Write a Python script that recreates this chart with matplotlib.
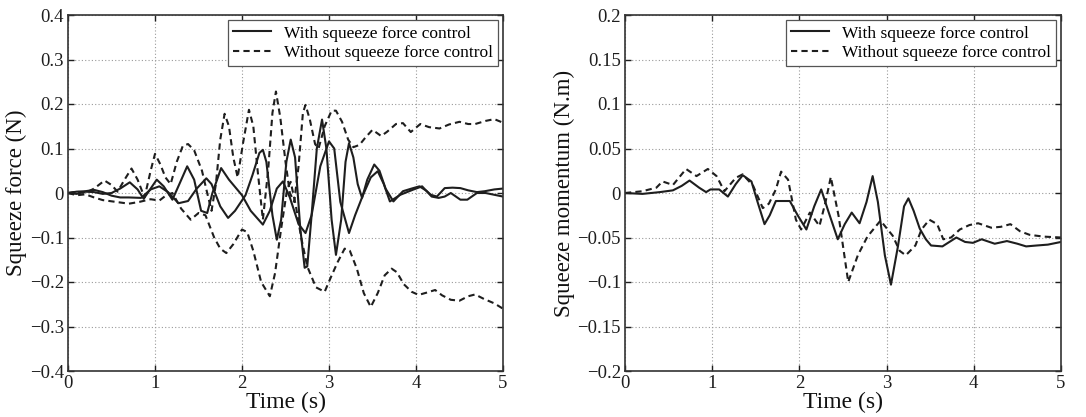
import matplotlib
matplotlib.use("Agg")
import matplotlib.pyplot as plt

plt.rcParams['font.family'] = ['Liberation Serif', 'DejaVu Serif']

# ---------------- data: left panel (squeeze force) ----------------
t_up_dash = [0.00, 0.10, 0.20, 0.30, 0.42, 0.50, 0.57, 0.65, 0.73, 0.80, 0.88, 0.95, 1.00, 1.06, 1.12,
             1.18, 1.25, 1.32, 1.38, 1.45, 1.54, 1.60, 1.65, 1.70, 1.75, 1.80, 1.85, 1.90, 1.95, 2.01,
             2.08, 2.13, 2.18, 2.24, 2.30, 2.35, 2.39, 2.44, 2.50, 2.55, 2.60, 2.65, 2.70, 2.73, 2.78,
             2.84, 2.88, 2.95, 3.03, 3.08, 3.15, 3.22, 3.28, 3.35, 3.42, 3.50, 3.60, 3.67, 3.77, 3.85,
             3.94, 4.05, 4.15, 4.27, 4.38, 4.50, 4.60, 4.68, 4.80, 4.90, 5.00]
f_up_dash = [0.000, 0.003, 0.000, 0.010, 0.028, 0.018, 0.003, 0.030, 0.055, 0.030, -0.010, 0.050, 0.088, 0.065, 0.035,
             0.020, 0.070, 0.106, 0.110, 0.096, 0.050, 0.000, -0.040, 0.020, 0.120, 0.178, 0.150, 0.080, 0.035, 0.110,
             0.187, 0.150, 0.050, -0.060, 0.050, 0.180, 0.228, 0.170, 0.070, 0.000, -0.020, 0.060, 0.180, 0.198, 0.165,
             0.110, 0.100, 0.150, 0.185, 0.185, 0.160, 0.120, 0.103, 0.108, 0.125, 0.142, 0.128, 0.138, 0.155, 0.157,
             0.137, 0.155, 0.148, 0.145, 0.154, 0.160, 0.155, 0.155, 0.162, 0.166, 0.158]

t_low_dash = [0.00, 0.10, 0.20, 0.30, 0.40, 0.55, 0.70, 0.82, 0.95, 1.05, 1.13, 1.20, 1.30, 1.41, 1.50,
              1.58, 1.68, 1.75, 1.82, 1.90, 2.00, 2.06, 2.13, 2.22, 2.32, 2.38, 2.45, 2.52, 2.56, 2.62,
              2.68, 2.75, 2.85, 2.95, 3.02, 3.10, 3.18, 3.24, 3.32, 3.40, 3.48, 3.56, 3.64, 3.72, 3.78,
              3.86, 3.95, 4.03, 4.12, 4.22, 4.30, 4.40, 4.50, 4.60, 4.68, 4.78, 4.90, 5.00]
f_low_dash = [0.000, -0.005, -0.003, -0.010, -0.016, -0.020, -0.024, -0.020, -0.014, -0.017, -0.005, 0.000, -0.035, -0.060, -0.045,
              -0.050, -0.100, -0.125, -0.135, -0.115, -0.082, -0.088, -0.130, -0.200, -0.232, -0.180, -0.080, 0.010, 0.025, -0.030,
              -0.100, -0.165, -0.212, -0.222, -0.190, -0.155, -0.125, -0.130, -0.170, -0.225, -0.256, -0.225, -0.185, -0.170, -0.178,
              -0.205, -0.222, -0.229, -0.224, -0.218, -0.230, -0.240, -0.242, -0.232, -0.228, -0.238, -0.248, -0.260]

t_solid_a = [0.00, 0.10, 0.20, 0.30, 0.40, 0.50, 0.60, 0.70, 0.84, 0.95, 1.05, 1.15, 1.27, 1.38, 1.48,
             1.59, 1.65, 1.75, 1.84, 1.92, 2.04, 2.12, 2.20, 2.24, 2.28, 2.35, 2.40, 2.45, 2.51, 2.56,
             2.61, 2.67, 2.72, 2.75, 2.80, 2.86, 2.92, 2.97, 3.03, 3.08, 3.14, 3.19, 3.23, 3.28, 3.33,
             3.38, 3.44, 3.52, 3.58, 3.65, 3.74, 3.85, 3.95, 4.04, 4.12, 4.17, 4.24, 4.33, 4.42, 4.51,
             4.60, 4.70, 4.79, 4.90, 5.00]
f_solid_a = [0.000, 0.003, 0.004, 0.007, 0.002, -0.006, -0.010, -0.010, -0.011, 0.008, 0.015, 0.002, -0.023, -0.018, 0.010,
             0.033, 0.020, -0.030, -0.056, -0.040, -0.005, 0.040, 0.090, 0.097, 0.070, -0.050, -0.105, -0.060, 0.070, 0.120,
             0.080, -0.080, -0.168, -0.165, -0.050, 0.100, 0.165, 0.100, -0.060, -0.139, -0.060, 0.070, 0.112, 0.080, 0.020,
             -0.011, 0.030, 0.064, 0.050, 0.010, -0.019, 0.004, 0.010, 0.015, 0.005, -0.004, -0.008, 0.011, 0.012, 0.011,
             0.006, 0.002, 0.004, 0.008, 0.010]

t_solid_b = [0.00, 0.10, 0.20, 0.30, 0.40, 0.50, 0.60, 0.71, 0.80, 0.87, 0.95, 1.02, 1.10, 1.20, 1.28,
             1.37, 1.45, 1.53, 1.60, 1.66, 1.76, 1.85, 2.00, 2.10, 2.24, 2.32, 2.40, 2.47, 2.55, 2.65,
             2.73, 2.80, 2.90, 3.00, 3.06, 3.13, 3.23, 3.30, 3.39, 3.48, 3.56, 3.63, 3.70, 3.82, 3.96,
             4.07, 4.18, 4.26, 4.33, 4.40, 4.51, 4.59, 4.70, 4.80, 4.90, 5.00]
f_solid_b = [0.000, -0.002, 0.003, 0.002, -0.002, 0.000, 0.010, 0.024, 0.008, -0.013, 0.010, 0.030, 0.015, -0.015, 0.020,
             0.060, 0.030, -0.040, -0.045, 0.000, 0.056, 0.030, -0.005, -0.040, -0.071, -0.040, 0.010, 0.026, -0.010, -0.070,
             -0.090, -0.050, 0.060, 0.116, 0.100, -0.020, -0.090, -0.050, -0.005, 0.035, 0.049, 0.020, -0.019, -0.004, 0.007,
             0.015, -0.008, -0.011, -0.008, 0.000, -0.015, -0.015, 0.000, 0.000, -0.004, -0.008]

# ---------------- data: right panel (squeeze momentum) ----------------
t_mom_solid = [0.00, 0.20, 0.40, 0.55, 0.65, 0.74, 0.85, 0.93, 0.98, 1.08, 1.18, 1.27, 1.35, 1.45, 1.52,
               1.60, 1.66, 1.73, 1.89, 1.98, 2.08, 2.17, 2.25, 2.33, 2.44, 2.52, 2.60, 2.69, 2.77, 2.84,
               2.90, 2.98, 3.05, 3.13, 3.20, 3.25, 3.31, 3.38, 3.45, 3.51, 3.64, 3.72, 3.80, 3.90, 3.99,
               4.09, 4.24, 4.38, 4.50, 4.60, 4.72, 4.85, 5.00]
m_mom_solid = [0.000, -0.001, 0.001, 0.003, 0.008, 0.014, 0.006, 0.001, 0.004, 0.004, -0.004, 0.010, 0.020, 0.013, -0.010,
               -0.035, -0.025, -0.009, -0.009, -0.025, -0.041, -0.015, 0.004, -0.020, -0.052, -0.035, -0.022, -0.034, -0.010, 0.019,
               -0.010, -0.070, -0.103, -0.060, -0.015, -0.006, -0.020, -0.040, -0.052, -0.059, -0.060, -0.055, -0.050, -0.055, -0.056,
               -0.052, -0.057, -0.054, -0.057, -0.060, -0.059, -0.058, -0.055]

t_mom_dash = [0.00, 0.20, 0.36, 0.43, 0.55, 0.70, 0.82, 0.95, 1.05, 1.14, 1.27, 1.35, 1.47, 1.58, 1.65,
              1.73, 1.79, 1.87, 1.96, 2.02, 2.12, 2.23, 2.30, 2.36, 2.45, 2.56, 2.67, 2.78, 2.93, 3.07,
              3.15, 3.22, 3.33, 3.40, 3.49, 3.58, 3.65, 3.74, 3.84, 3.95, 4.05, 4.20, 4.31, 4.42, 4.53,
              4.64, 4.80, 5.00]
m_mom_dash = [0.000, 0.002, 0.006, 0.013, 0.009, 0.027, 0.019, 0.027, 0.019, 0.002, 0.017, 0.021, 0.008, -0.017, -0.012,
              0.004, 0.024, 0.015, -0.030, -0.041, -0.022, -0.037, -0.010, 0.018, -0.026, -0.100, -0.070, -0.049, -0.031, -0.048,
              -0.065, -0.070, -0.059, -0.041, -0.030, -0.035, -0.052, -0.050, -0.041, -0.036, -0.034, -0.039, -0.038, -0.035, -0.043,
              -0.047, -0.049, -0.050]

# ---------------- ticks / labels ----------------
x_ticks = [0, 1, 2, 3, 4, 5]
force_ticks = [-0.4, -0.3, -0.2, -0.1, 0, 0.1, 0.2, 0.3, 0.4]
force_tick_labels = ['\u22120.4', '\u22120.3', '\u22120.2', '\u22120.1', '0', '0.1', '0.2', '0.3', '0.4']
mom_ticks = [-0.2, -0.15, -0.1, -0.05, 0, 0.05, 0.1, 0.15, 0.2]
mom_tick_labels = ['\u22120.2', '\u22120.15', '\u22120.1', '\u22120.05', '0', '0.05', '0.1', '0.15', '0.2']
legend_labels = ['With squeeze force control', 'Without squeeze force control']
x_label = 'Time (s)'
y_label_left = 'Squeeze force (N)'
y_label_right = 'Squeeze momentum (N.m)'

LC = '#1e1e1e'
LW = 1.5
DASH = (0, (3.0, 2.0))

fig = plt.figure(figsize=(10.86, 4.17), dpi=100)
ax1 = fig.add_axes([68 / 1086, 46 / 417, 435 / 1086, 356 / 417])
ax2 = fig.add_axes([625 / 1086, 46 / 417, 436 / 1086, 356 / 417])


def style(ax, yticks, ylabels, ylim, ylabel):
    ax.set_xlim(0, 5)
    ax.set_ylim(*ylim)
    ax.set_xticks(x_ticks)
    ax.set_xticklabels([str(v) for v in x_ticks])
    ax.set_yticks(yticks)
    ax.set_yticklabels(ylabels)
    ax.grid(True, linestyle=(0, (1, 2)), color='#9a9a9a', linewidth=0.8)
    ax.tick_params(direction='in', length=4, width=1.0, top=True, right=True,
                   labelsize=13.5, pad=3, colors='#1e1e1e')
    for s in ax.spines.values():
        s.set_color('#333333')
        s.set_linewidth(1.2)
    ax.set_xlabel(x_label, fontsize=17, labelpad=0, color='#111111')
    ax.set_ylabel(ylabel, fontsize=16.5, labelpad=2, color='#111111')


def add_legend(ax, handles):
    leg = ax.legend(handles, legend_labels, loc='upper right', fontsize=12.5,
                    frameon=True, fancybox=False, framealpha=1, edgecolor='#555555',
                    borderaxespad=0.3, borderpad=0.3, labelspacing=0.2,
                    handlelength=2.2, handletextpad=0.7)
    leg.get_frame().set_linewidth(0.9)
    return leg


# left panel
l1, = ax1.plot(t_solid_a, f_solid_a, color=LC, lw=LW, linestyle='-')
ax1.plot(t_solid_b, f_solid_b, color=LC, lw=LW, linestyle='-')
l2, = ax1.plot(t_up_dash, f_up_dash, color=LC, lw=LW, linestyle=DASH)
ax1.plot(t_low_dash, f_low_dash, color=LC, lw=LW, linestyle=DASH)
style(ax1, force_ticks, force_tick_labels, (-0.4, 0.4), y_label_left)
add_legend(ax1, [l1, l2])

# right panel
r1, = ax2.plot(t_mom_solid, m_mom_solid, color=LC, lw=LW, linestyle='-')
r2, = ax2.plot(t_mom_dash, m_mom_dash, color=LC, lw=LW, linestyle=DASH)
style(ax2, mom_ticks, mom_tick_labels, (-0.2, 0.2), y_label_right)
add_legend(ax2, [r1, r2])

fig.savefig('out.png', dpi=100)
